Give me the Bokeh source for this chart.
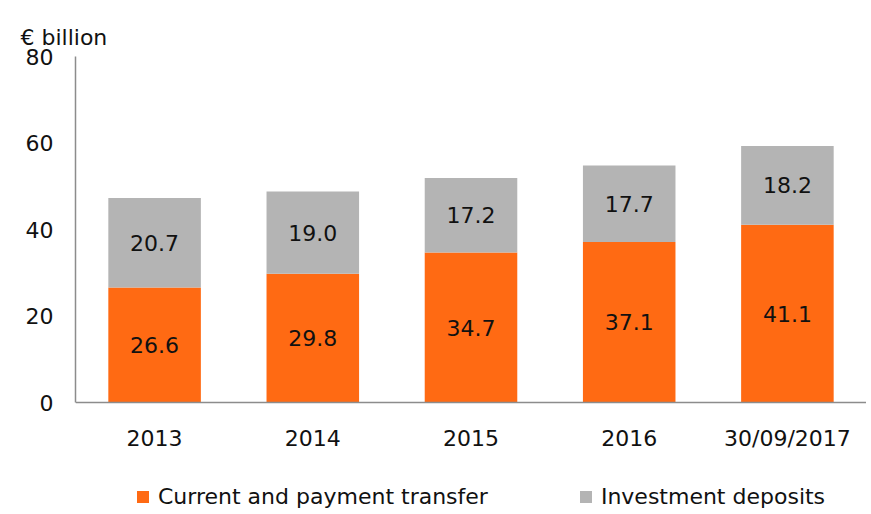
from bokeh.plotting import figure
from bokeh.models import ColumnDataSource, FixedTicker, Range1d, Legend, LegendItem, Title, LabelSet
from bokeh.core.properties import value
from bokeh.embed import file_html
from bokeh.resources import INLINE

categories = ["2013", "2014", "2015", "2016", "30/09/2017"]
current = [26.6, 29.8, 34.7, 37.1, 41.1]
investment = [20.7, 19.0, 17.2, 17.7, 18.2]
series_names = ["Current and payment transfer", "Investment deposits"]
y_ticks = [0, 20, 40, 60, 80]

ORANGE = "#FF6A13"
GREY = "#B4B4B4"
FONT = "DejaVu Sans"

src = ColumnDataSource(dict(
    cat=categories,
    cur=current,
    inv=investment,
    cur_mid=[c / 2 for c in current],
    inv_mid=[c + i / 2 for c, i in zip(current, investment)],
    cur_lbl=[f"{c:.1f}" for c in current],
    inv_lbl=[f"{i:.1f}" for i in investment],
))

# frame extends below zero to leave room for tick labels and legend
p = figure(x_range=categories, y_range=Range1d(-25.4, 80), width=866, height=512,
           output_backend="svg", toolbar_location=None,
           min_border_left=75, min_border_right=0, min_border_top=56, min_border_bottom=0)

r = p.vbar_stack(["cur", "inv"], x="cat", width=0.585, source=src,
                 color=[ORANGE, GREY], line_color=None)

for ycol, tcol in (("cur_mid", "cur_lbl"), ("inv_mid", "inv_lbl")):
    p.add_layout(LabelSet(x="cat", y=ycol, text=tcol, source=src,
                          text_align="center", text_baseline="middle",
                          text_font=value(FONT), text_font_size="22px",
                          text_color="#111111"))

p.xgrid.grid_line_color = None
p.ygrid.grid_line_color = None
p.outline_line_color = None

p.yaxis.ticker = FixedTicker(ticks=y_ticks)
p.yaxis.bounds = (0, 80)
p.xaxis.fixed_location = 0
for ax in (p.xaxis, p.yaxis):
    ax.axis_line_color = "#8C8C8C"
    ax.axis_line_width = 1.5
    ax.major_tick_line_color = None
    ax.minor_tick_line_color = None
    ax.major_label_text_font = FONT
    ax.major_label_text_font_size = "22px"
    ax.major_label_text_color = "#111111"
p.yaxis.major_label_standoff = 16
p.xaxis.major_label_standoff = 17

p.add_layout(Title(text="€ billion", align="left", offset=-55, standoff=10,
                   vertical_align="top",
                   text_font=FONT, text_font_size="22px", text_font_style="normal",
                   text_color="#111111"), "above")

legend = Legend(items=[LegendItem(label=series_names[0], renderers=[r[0]]),
                       LegendItem(label=series_names[1], renderers=[r[1]])],
                orientation="horizontal", location=(60, 3),
                label_text_font=FONT,
                label_text_font_size="22px", label_text_color="#111111",
                glyph_width=15, glyph_height=15, label_standoff=8, spacing=90,
                border_line_color=None, background_fill_alpha=0, margin=0, padding=0)
p.add_layout(legend)

open("out.html", "w").write(file_html(p, INLINE))
